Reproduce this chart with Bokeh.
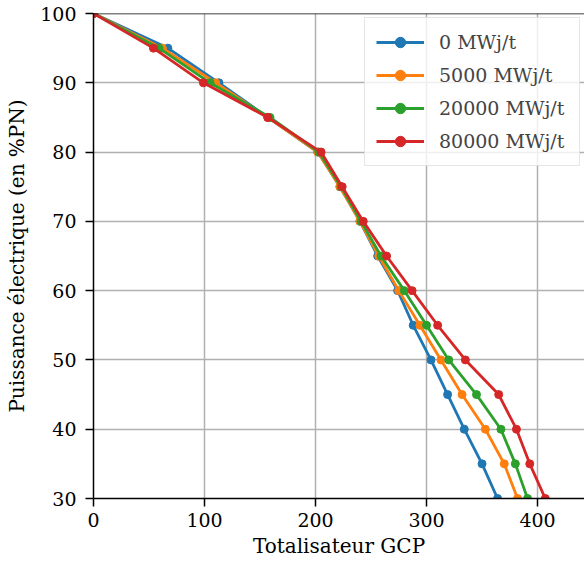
from bokeh.plotting import figure
from bokeh.models import Range1d, FixedTicker, Legend, LegendItem, Span
from bokeh.embed import file_html
from bokeh.resources import INLINE

power = [100, 95, 90, 85, 80, 75, 70, 65, 60, 55, 50, 45, 40, 35, 30]
gcp_0 = [0, 67, 113, 157, 202, 222, 240, 256, 274, 288, 304, 319, 334, 350, 364]
gcp_5000 = [0, 62, 110, 157, 202, 222, 240, 257, 275, 294, 313, 332, 353, 370, 382]
gcp_20000 = [0, 59, 105, 159, 203, 223, 241, 259, 280, 300, 320, 345, 367, 380, 391]
gcp_80000 = [0, 54, 99, 157, 205, 224, 243, 264, 287, 310, 335, 365, 381, 393, 407]
labels = ["0 MWj/t", "5000 MWj/t", "20000 MWj/t", "80000 MWj/t"]
colors = ["#1f77b4", "#ff7f0e", "#2ca02c", "#d62728"]
x_ticks = [0, 100, 200, 300, 400]
y_ticks = [30, 40, 50, 60, 70, 80, 90, 100]

FONT = "DejaVu Serif"

p = figure(width=584, height=566, output_backend="svg", toolbar_location=None,
           x_range=Range1d(0, 442.3), y_range=Range1d(30, 100),
           min_border_left=93, min_border_top=13, min_border_right=0, min_border_bottom=68)
p.outline_line_color = None
p.background_fill_color = "white"
p.border_fill_color = "white"

for ax in (p.xaxis[0], p.yaxis[0]):
    ax.axis_line_color = "black"
    ax.axis_line_width = 1.5
    ax.major_tick_line_color = "black"
    ax.major_tick_line_width = 1.5
    ax.major_tick_out = 8
    ax.major_tick_in = 0
    ax.minor_tick_line_color = None
    ax.major_label_text_font = FONT
    ax.major_label_text_font_size = "19px"
    ax.major_label_text_color = "black"
    ax.axis_label_text_font = FONT
    ax.axis_label_text_font_size = "20px"
    ax.axis_label_text_font_style = "normal"
    ax.axis_label_text_color = "black"

p.xaxis.ticker = FixedTicker(ticks=x_ticks)
p.yaxis.ticker = FixedTicker(ticks=y_ticks)
p.xaxis.axis_label = "Totalisateur GCP"
p.yaxis.axis_label = "Puissance électrique (en %PN)"
p.xaxis.major_label_standoff = 6
p.yaxis.major_label_standoff = 9
p.xaxis.axis_label_standoff = 4
p.yaxis.axis_label_standoff = 8

p.xgrid.ticker = FixedTicker(ticks=x_ticks)
p.ygrid.ticker = FixedTicker(ticks=y_ticks)
p.grid.grid_line_color = "#b0b0b0"
p.grid.grid_line_width = 1.5

p.add_layout(Span(location=100, dimension="width", line_color="black", line_width=1.5))

items = []
for xs, lab, col in zip([gcp_0, gcp_5000, gcp_20000, gcp_80000], labels, colors):
    l = p.line(xs, power, line_color=col, line_width=2.8)
    s = p.scatter(xs, power, size=8, fill_color=col, line_color=col)
    items.append(LegendItem(label=lab, renderers=[l, s]))

legend = Legend(items=items, location="top_right", margin=4,
                label_text_font=FONT, label_text_font_size="19px",
                glyph_width=48, glyph_height=26, label_height=26, label_width=129,
                label_standoff=15, spacing=7, padding=11,
                background_fill_color="white", background_fill_alpha=0.8,
                border_line_color="#cccccc", border_line_width=1.5)
p.add_layout(legend)

open("out.html", "w").write(file_html(p, INLINE))
